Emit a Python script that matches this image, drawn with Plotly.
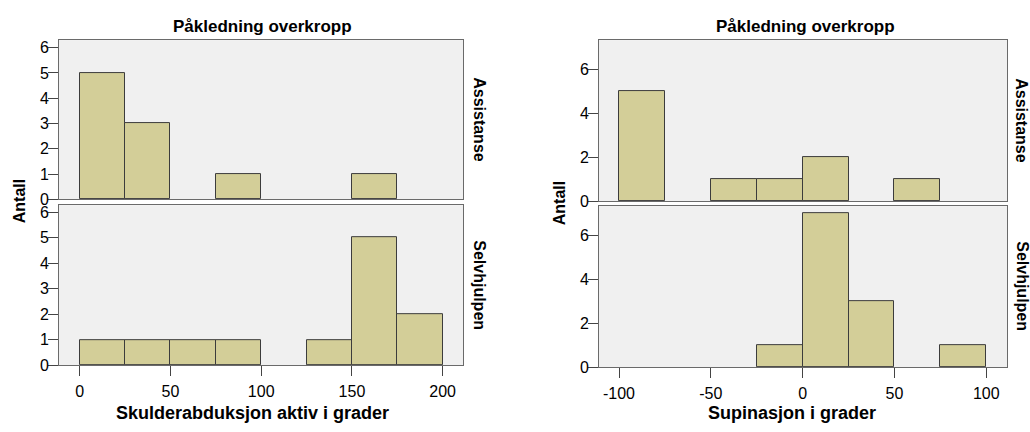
import plotly.graph_objects as go

# Histogram bins (left edge of each 25-degree bin) and counts per group
BIN_WIDTH = 25

skulder_assist_bins = [0, 25, 75, 150]
skulder_assist_counts = [5, 3, 1, 1]
skulder_selv_bins = [0, 25, 50, 75, 125, 150, 175]
skulder_selv_counts = [1, 1, 1, 1, 1, 5, 2]

supin_assist_bins = [-100, -50, -25, 0, 50]
supin_assist_counts = [5, 1, 1, 2, 1]
supin_selv_bins = [-25, 0, 25, 75]
supin_selv_counts = [1, 7, 3, 1]

skulder_ticks = [0, 50, 100, 150, 200]
skulder_ticktext = ["0", "50", "100", "150", "200"]
supin_ticks = [-100, -50, 0, 50, 100]
supin_ticktext = ["-100", "-50", "0", "50", "100"]

panel_title = "Påkledning overkropp"
row_labels = ["Assistanse", "Selvhjulpen"]
y_title = "Antall"
x_title_left = "Skulderabduksjon aktiv i grader"
x_title_right = "Supinasjon i grader"

W, H = 1030, 432
FONT = "Liberation Sans, Arial, sans-serif"
BAR_FILL = "#D3CE98"
BAR_EDGE = "#3c3c3c"
FRAME = "#6a6a6a"
PLOT_BG = "#F0F0F0"


def px_x(p):
    return p / W


def px_y(p):
    return 1 - p / H


fig = go.Figure()

series = [
    (skulder_assist_bins, skulder_assist_counts, "x", "y"),
    (skulder_selv_bins, skulder_selv_counts, "x2", "y2"),
    (supin_assist_bins, supin_assist_counts, "x3", "y3"),
    (supin_selv_bins, supin_selv_counts, "x4", "y4"),
]
for bins, counts, xa, ya in series:
    fig.add_trace(go.Bar(
        x=bins, y=counts, width=BIN_WIDTH, offset=0,
        marker=dict(color=BAR_FILL, line=dict(color=BAR_EDGE, width=1)),
        xaxis=xa, yaxis=ya, showlegend=False, hoverinfo="skip",
    ))

tickfont = dict(family=FONT, size=16, color="#000")


def xaxis(domain, rng, tickvals, ticktext, show_labels, anchor):
    return dict(
        domain=domain, range=rng, anchor=anchor,
        tickvals=tickvals, ticktext=ticktext, showticklabels=show_labels,
        ticks="outside" if show_labels else "", ticklen=10, tickcolor="#444",
        ticklabelstandoff=1,
        tickfont=tickfont, showgrid=False, zeroline=False,
        showline=True, linecolor=FRAME, linewidth=1, mirror=True,
    )


def yaxis(domain, rng, dtick, anchor):
    return dict(
        domain=domain, range=rng, anchor=anchor, dtick=dtick, tick0=0,
        ticks="outside", ticklen=10, tickcolor="#444",
        ticklabelstandoff=-4,
        tickfont=tickfont, showgrid=False, zeroline=False,
        showline=True, linecolor=FRAME, linewidth=1, mirror=True,
    )


left_dom = [px_x(59), px_x(463)]
right_dom = [px_x(599), px_x(1007)]

fig.update_layout(
    width=W, height=H,
    margin=dict(l=0, r=0, t=0, b=0),
    paper_bgcolor="white",
    plot_bgcolor=PLOT_BG,
    bargap=0,
    xaxis=xaxis(left_dom, [-11.4, 211.2], skulder_ticks, skulder_ticktext, False, "y"),
    yaxis=yaxis([px_y(203), px_y(40)], [0, 6.3], 1, "x"),
    xaxis2=xaxis(left_dom, [-11.4, 211.2], skulder_ticks, skulder_ticktext, True, "y2"),
    yaxis2=yaxis([px_y(373), px_y(209)], [0, 6.27], 1, "x2"),
    xaxis3=xaxis(right_dom, [-110.9, 111.3], supin_ticks, supin_ticktext, False, "y3"),
    yaxis3=yaxis([px_y(205), px_y(40)], [0, 7.34], 2, "x3"),
    xaxis4=xaxis(right_dom, [-110.9, 111.3], supin_ticks, supin_ticktext, True, "y4"),
    yaxis4=yaxis([px_y(375), px_y(210)], [0, 7.33], 2, "x4"),
)


def label(text, x, y, angle=0, size=16):
    fig.add_annotation(
        text=f"<b>{text}</b>", x=px_x(x), y=px_y(y), xref="paper", yref="paper",
        xanchor="center", yanchor="middle", showarrow=False, textangle=angle,
        font=dict(family=FONT, size=size, color="#000"),
    )


# Column titles
label(panel_title, 262, 26, size=17)
label(panel_title, 805, 26, size=17)

# Row strip labels
label(row_labels[0], 480, 121, angle=90)
label(row_labels[1], 480, 291, angle=90)
label(row_labels[0], 1022, 122, angle=90)
label(row_labels[1], 1023, 292, angle=90)

# Y-axis titles
label(y_title, 19, 205, angle=-90)
label(y_title, 559, 207, angle=-90)

# X-axis titles
label(x_title_left, 252, 422, size=18)
label(x_title_right, 792, 422, size=18)

fig.write_html("out.html")
